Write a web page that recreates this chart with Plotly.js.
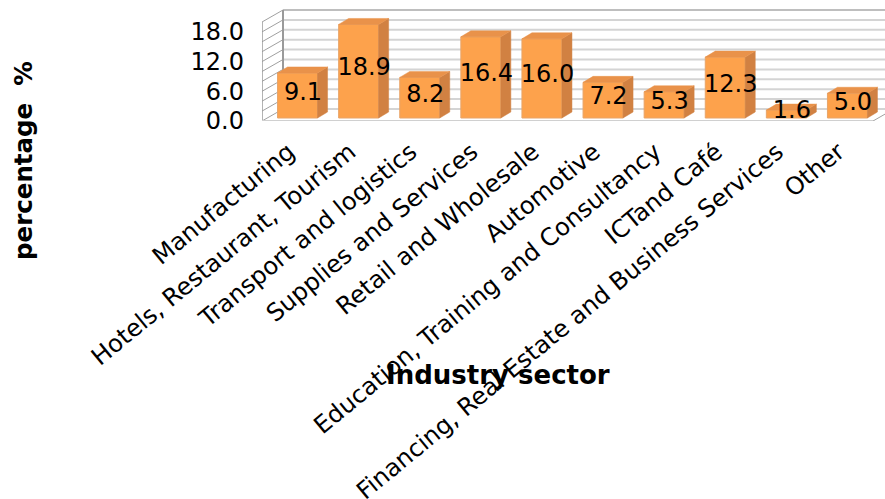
<!DOCTYPE html>
<html>
<head>
<meta charset="utf-8">
<script src="https://cdn.plot.ly/plotly-3.0.1.min.js"></script>
<style>html,body{margin:0;padding:0;background:#fff}</style>
</head>
<body>
<div id="chart" style="width:885px;height:499px"></div>
<script>
const categories = ["Manufacturing","Hotels, Restaurant, Tourism","Transport and logistics","Supplies and Services","Retail and Wholesale","Automotive","Education, Training and Consultancy","ICTand Café","Financing, Real Estate and Business Services","Other"];
const values = [9.1,18.9,8.2,16.4,16.0,7.2,5.3,12.3,1.6,5.0];
const labels = ["9.1","18.9","8.2","16.4","16.0","7.2","5.3","12.3","1.6","5.0"];
const yTicks = [0,6,12,18];
const yTickText = ["0.0","6.0","12.0","18.0"];
const gridValues = [0,2,4,6,8,10,12,14,16,18,20];

const font = '"DejaVu Sans", sans-serif';
const pxX = 61.1, pxY = 4.95;
const idx = categories.map((_, i) => i);
const barW = 40 / pxX;
const frontDx = 5 / pxX, frontDy = 3 / pxY;     // bar front plane inside the floor
const depthDx = 10 / pxX, depthDy = 6 / pxY;    // depth of a bar
const wallDx = 21 / pxX, wallDy = 12 / pxY;     // depth of the floor
const xMin = -0.5, xMax = xMin + 623 / pxX, yMax = 116 / pxY;
const labelDx = 10.5 / pxX, tickDx = -4 / pxX;

const sideX = [], sideY = [], topX = [], topY = [];
idx.forEach(i => {
  const r = i + frontDx + barW / 2, l = i + frontDx - barW / 2;
  const b = frontDy, t = frontDy + values[i];
  sideX.push(r, r + depthDx, r + depthDx, r, r, null);
  sideY.push(b, b + depthDy, t + depthDy, t, b, null);
  topX.push(l, l + depthDx, r + depthDx, r, l, null);
  topY.push(t, t + depthDy, t + depthDy, t, t, null);
});

const shapes = [];
const line = (x0, y0, x1, y1, color, width) => shapes.push({type:'line', layer:'below', xref:'x', yref:'y', x0, y0, x1, y1, line:{color, width}});
gridValues.forEach((g, k) => {
  const last = k === gridValues.length - 1;
  line(xMin + wallDx, g + wallDy, xMax, g + wallDy, last ? '#a8a8a8' : '#d4d4d4', last ? 1.5 : 2);
  line(xMin, g, xMin + wallDx, g + wallDy, '#a0a0a0', 1);
});
line(xMin, 0, xMin, 20, '#9a9a9a', 1.5);
line(xMin + wallDx, wallDy, xMin + wallDx, 20 + wallDy, '#9a9a9a', 2);
line(xMin, 0, xMin + categories.length, 0, '#d0d0d0', 2);
line(xMin + categories.length, 0, xMax, wallDy * (xMax - xMin - categories.length) / wallDx, '#a0a0a0', 1);

const data = [
  {type:'bar', x:idx, y:values, base:frontDy, width:barW, offset:frontDx - barW / 2,
   marker:{color:'#FDA24C', line:{color:'#E8A468', width:1}}, hoverinfo:'skip'},
  {type:'scatter', mode:'lines', x:sideX, y:sideY, fill:'toself', fillcolor:'#D18142', line:{color:'#D18142', width:0.5}, hoverinfo:'skip'},
  {type:'scatter', mode:'lines', x:topX, y:topY, fill:'toself', fillcolor:'#E9924A', line:{color:'#E9924A', width:0.5}, hoverinfo:'skip'},
  {type:'scatter', mode:'text', x:idx.map(i => i + labelDx), y:values.map(v => frontDy + v / 2 + 0.4), text:labels,
   textposition:'middle center', textfont:{family:font, size:24, color:'#000'}, hoverinfo:'skip', cliponaxis:false}
];

const layout = {
  width:885, height:499, showlegend:false,
  paper_bgcolor:'#fff', plot_bgcolor:'#fff',
  margin:{l:262, r:0, t:5, b:378, pad:0},
  bargap:0,
  xaxis:{type:'linear', range:[xMin, xMax], tickmode:'array', tickvals:idx.map(i => i + tickDx), ticktext:categories,
    tickangle:-39.5, ticks:'', ticklabelstandoff:11, showgrid:false, zeroline:false, showline:false,
    tickfont:{family:font, size:24.2, color:'#000'}, automargin:false},
  yaxis:{range:[0, yMax], tickmode:'array', tickvals:yTicks, ticktext:yTickText,
    ticks:'', ticklabelstandoff:17, showgrid:false, zeroline:false, showline:false,
    tickfont:{family:font, size:24, color:'#000'}, automargin:false},
  shapes,
  annotations:[
    {xref:'paper', yref:'paper', xanchor:'center', yanchor:'middle', x:(498 - 262) / 623, y:1 - (375 - 5) / 116,
     text:'<b>Industry sector</b>', showarrow:false, font:{family:font, size:26, color:'#000'}},
    {xref:'paper', yref:'paper', xanchor:'center', yanchor:'middle', x:(23 - 262) / 623, y:1 - (161 - 5) / 116,
     text:'<b>percentage\u00a0\u00a0%</b>', textangle:-90, showarrow:false, font:{family:font, size:24.5, color:'#000'}}
  ]
};
Plotly.newPlot('chart', data, layout, {displayModeBar:false, staticPlot:true});
</script>
</body>
</html>
